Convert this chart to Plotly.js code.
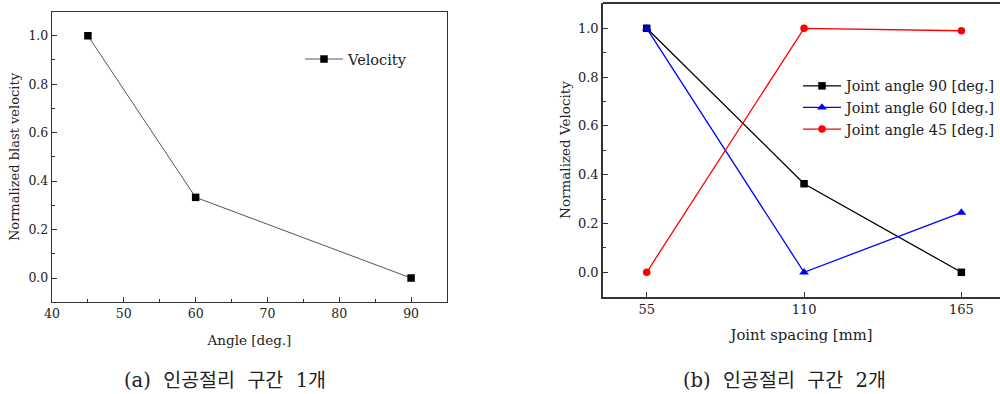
<!DOCTYPE html>
<html><head><meta charset="utf-8">
<script src="https://cdn.plot.ly/plotly-3.0.1.min.js"></script>
<style>body{margin:0;background:#fff}#c{width:1000px;height:394px}</style>
</head><body><div id="c"></div>
<script>
// Chart (a)
const anglesA = [45, 60, 90];
const velocityA = [1.0, 0.333, 0.0];
// Chart (b)
const spacingB = [55, 110, 165];
const joint90 = [1.0, 0.363, 0.0];
const joint60 = [1.0, 0.0, 0.245];
const joint45 = [0.0, 1.0, 0.99];
const spacingTicks = [55, 110, 165];
const captions = ['(a)  인공절리  구간  1개', '(b)  인공절리  구간  2개'];

const SERIF = 'DejaVu Serif, Liberation Serif, Noto Sans CJK KR, serif';
const axC = '#333';
const fnt = {family: SERIF, size: 12.5, color: '#222'};
const tfnt = {family: SERIF, size: 13, color: '#222'};

const traces = [
  {x: anglesA, y: velocityA, name: 'Velocity', mode: 'lines+markers', xaxis: 'x', yaxis: 'y', legend: 'legend',
   line: {color: '#555', width: 1}, marker: {symbol: 'square', size: 7.5, color: '#000'}},
  {x: spacingB, y: joint90, name: 'Joint angle 90 [deg.]', mode: 'lines+markers', xaxis: 'x2', yaxis: 'y2', legend: 'legend2',
   line: {color: '#000', width: 1.3}, marker: {symbol: 'square', size: 7.5, color: '#000'}},
  {x: spacingB, y: joint60, name: 'Joint angle 60 [deg.]', mode: 'lines+markers', xaxis: 'x2', yaxis: 'y2', legend: 'legend2',
   line: {color: '#0000ff', width: 1.3}, marker: {symbol: 'triangle-up', size: 8.5, color: '#0000ff'}},
  {x: spacingB, y: joint45, name: 'Joint angle 45 [deg.]', mode: 'lines+markers', xaxis: 'x2', yaxis: 'y2', legend: 'legend2',
   line: {color: '#ff0000', width: 1.3}, marker: {symbol: 'circle', size: 7.5, color: '#ff0000'}}
];

const common = {showgrid: false, zeroline: false, showline: true, linecolor: axC, linewidth: 1.2,
  ticks: 'inside', ticklen: 5, tickwidth: 1, tickcolor: axC, tickfont: fnt};

const layout = {
  width: 1000, height: 394, margin: {l: 0, r: 0, t: 0, b: 0, autoexpand: false},
  paper_bgcolor: '#fff', plot_bgcolor: '#fff', font: fnt,
  xaxis: Object.assign({}, common, {domain: [0.052, 0.447], range: [40, 95], dtick: 10, tick0: 40, mirror: true,
    minor: {dtick: 5, ticks: 'inside', ticklen: 3, tickcolor: axC},
    title: {text: 'Angle [deg.]', font: {family: SERIF, size: 13.5, color: '#222'}, standoff: 15}, anchor: 'y'}),
  yaxis: Object.assign({}, common, {domain: [0.2335, 0.9695], range: [-0.099, 1.098], dtick: 0.2, tick0: 0, tickformat: '.1f', mirror: true,
    minor: {dtick: 0.1, ticks: 'inside', ticklen: 3, tickcolor: axC},
    title: {text: 'Normalized blast velocity', font: tfnt, standoff: 5}, anchor: 'x'}),
  xaxis2: Object.assign({}, common, {domain: [0.603, 1.0], range: [39.72, 178.5], tickvals: spacingTicks, mirror: false,
    linewidth: 1.8, tickfont: {family: SERIF, size: 13, color: '#222'},
    title: {text: 'Joint spacing [mm]', font: {family: SERIF, size: 14.8, color: '#222'}, standoff: 13}, anchor: 'y2'}),
  yaxis2: Object.assign({}, common, {domain: [0.2462, 0.9924], range: [-0.1012, 1.1037], dtick: 0.2, tick0: 0, tickformat: '.1f', mirror: false,
    linewidth: 1.8, tickfont: {family: SERIF, size: 13, color: '#222'},
    minor: {dtick: 0.1, ticks: 'inside', ticklen: 3, tickcolor: axC},
    title: {text: 'Normalized Velocity', font: {family: SERIF, size: 13.5, color: '#222'}, standoff: 4}, anchor: 'x2'}),
  legend: {x: 0.300, y: 0.85, xanchor: 'left', yanchor: 'middle', bgcolor: 'rgba(0,0,0,0)', itemwidth: 38,
    font: {family: SERIF, size: 14.5, color: '#222'}},
  legend2: {x: 0.798, y: 0.727, xanchor: 'left', yanchor: 'middle', bgcolor: 'rgba(0,0,0,0)', tracegroupgap: 0, itemwidth: 38,
    font: {family: SERIF, size: 14.3, color: '#222'}},
  shapes: [
    {type: 'line', xref: 'paper', yref: 'paper', x0: 0.603, x1: 1.0, y0: 0.9924, y1: 0.9924, line: {color: axC, width: 1.8}}
  ],
  annotations: [
    {text: captions[0], xref: 'paper', yref: 'paper', x: 0.225, y: (394 - 380) / 394, showarrow: false, xanchor: 'center',
     font: {family: SERIF, size: 19.5, color: '#222'}, yanchor: 'middle'},
    {text: captions[1], xref: 'paper', yref: 'paper', x: 0.784, y: (394 - 380) / 394, showarrow: false, xanchor: 'center',
     font: {family: SERIF, size: 19.5, color: '#222'}, yanchor: 'middle'}
  ],
  showlegend: true
};

Plotly.newPlot('c', traces, layout, {staticPlot: true, displayModeBar: false});
</script>
</body></html>
